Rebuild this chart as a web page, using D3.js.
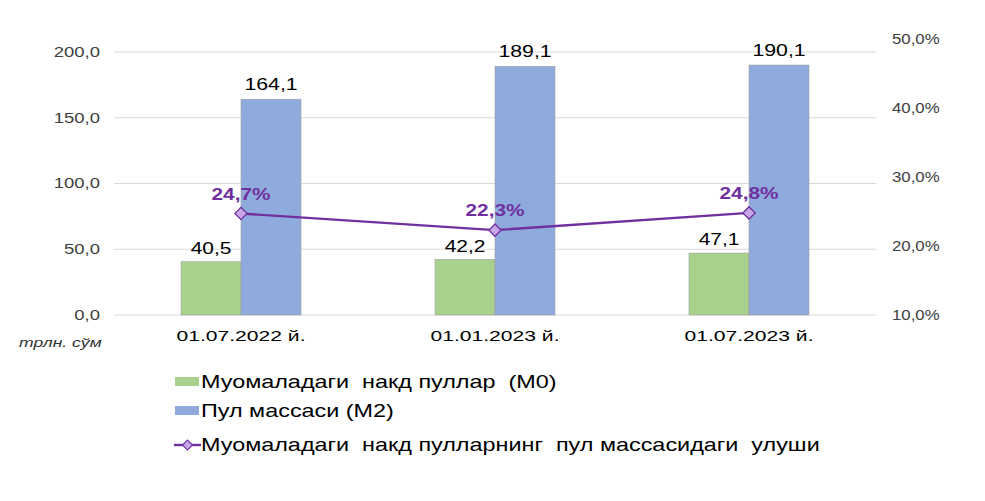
<!DOCTYPE html>
<html><head><meta charset="utf-8">
<script src="https://cdn.jsdelivr.net/npm/d3@7"></script>
<style>body{margin:0;background:#fff;} svg{display:block;font-family:"Liberation Sans",Arial,sans-serif;}</style>
</head><body>
<svg id="chart" width="985" height="501"></svg>
<script>
const categories = ["01.07.2022 й.", "01.01.2023 й.", "01.07.2023 й."];
const m0 = [40.5, 42.2, 47.1];
const m2 = [164.1, 189.1, 190.1];
const share = [24.7, 22.3, 24.8];
const leftTicks = [0, 50, 100, 150, 200];
const rightTicks = [10, 20, 30, 40, 50];
const seriesNames = ["Муомаладаги  накд пуллар  (М0)", "Пул массаси (М2)", "Муомаладаги  накд пулларнинг  пул массасидаги  улуши"];
const unitLabel = "трлн. сўм";

const svg = d3.select("#chart");
const fmt1 = v => v.toFixed(1).replace(".", ",");
const x = d3.scaleBand().domain(categories).range([114, 876]);
const y = d3.scaleLinear().domain([0, 200]).range([315, 52]);
const y2 = d3.scaleLinear().domain([10, 50]).range([315, 39]);
const barW = 60;
const FF = "Liberation Sans, Arial, sans-serif";

// gridlines
svg.append("g").selectAll("line").data(leftTicks).join("line")
  .attr("x1", 114).attr("x2", 876).attr("y1", d => y(d)).attr("y2", d => y(d))
  .attr("stroke", "#d9d9d9").attr("stroke-width", 1);

// left axis labels
const yAxis = d3.axisLeft(y).tickValues(leftTicks).tickFormat(fmt1).tickSize(0).tickPadding(0);
const gl = svg.append("g").attr("transform", "translate(100,0)").call(yAxis);
gl.select(".domain").remove();
gl.selectAll("text").attr("x", 0).attr("font-size", 14).attr("fill", "#404040").attr("font-family", FF)
  .attr("transform", "scale(1.32,1)");

// right axis labels
const y2Axis = d3.axisRight(y2).tickValues(rightTicks).tickFormat(d => fmt1(d) + "%").tickSize(0).tickPadding(0);
const gr = svg.append("g").attr("transform", "translate(892,0)").call(y2Axis);
gr.select(".domain").remove();
gr.selectAll("text").attr("x", 0).attr("font-size", 14).attr("fill", "#404040").attr("font-family", FF)
  .attr("transform", "scale(1.2,1)");

// bars
const cx = c => x(c) + x.bandwidth() / 2;
svg.append("g").selectAll("rect").data(categories).join("rect")
  .attr("x", d => cx(d) - barW).attr("width", barW)
  .attr("y", (d, i) => y(m0[i])).attr("height", (d, i) => y(0) - y(m0[i]))
  .attr("fill", "#A9D18E").attr("stroke", "#a0a0a0").attr("stroke-width", 0.6);
svg.append("g").selectAll("rect").data(categories).join("rect")
  .attr("x", d => cx(d)).attr("width", barW)
  .attr("y", (d, i) => y(m2[i])).attr("height", (d, i) => y(0) - y(m2[i]))
  .attr("fill", "#8FAADC").attr("stroke", "#a0a0a0").attr("stroke-width", 0.6);

// bar labels
svg.append("g").selectAll("text").data(categories).join("text")
  .attr("transform", (d, i) => `translate(${cx(d) - barW / 2},${y(m0[i]) - 8}) scale(1.31,1)`)
  .attr("text-anchor", "middle").attr("font-size", 16).attr("fill", "#000")
  .text((d, i) => fmt1(m0[i]));
svg.append("g").selectAll("text").data(categories).join("text")
  .attr("transform", (d, i) => `translate(${cx(d) + barW / 2},${y(m2[i]) - 9}) scale(1.33,1)`)
  .attr("text-anchor", "middle").attr("font-size", 16).attr("fill", "#000")
  .text((d, i) => fmt1(m2[i]));

// category labels
const xAxis = d3.axisBottom(x).tickSize(0).tickPadding(0);
const gx = svg.append("g").attr("transform", "translate(0,330)").call(xAxis);
gx.select(".domain").remove();
gx.selectAll("text").attr("y", 0).attr("font-size", 15.5).attr("fill", "#000").attr("font-family", FF)
  .attr("transform", "scale(1.36,1)");

// unit label
svg.append("text").attr("transform", "translate(19,347) scale(1.35,1)").attr("font-size", 13).attr("font-style", "italic")
  .attr("fill", "#333").text(unitLabel);

// line
const purple = "#7030A0";
const line = d3.line().x((d, i) => cx(categories[i])).y(d => y2(d));
svg.append("path").datum(share).attr("d", line).attr("fill", "none").attr("stroke", purple).attr("stroke-width", 2.4);
svg.append("g").selectAll("path").data(share).join("path")
  .attr("d", d3.symbol().type(d3.symbolSquare).size(75))
  .attr("transform", (d, i) => `translate(${cx(categories[i])},${y2(d)}) rotate(45)`)
  .attr("fill", "#C9A6E8").attr("stroke", purple).attr("stroke-width", 1.3);
svg.append("g").selectAll("text").data(share).join("text")
  .attr("transform", (d, i) => `translate(${cx(categories[i])},${y2(d) - 14}) scale(1.3,1)`)
  .attr("text-anchor", "middle").attr("font-size", 16).attr("font-weight", "bold").attr("fill", purple)
  .text(d => fmt1(d) + "%");

// legend
const leg = svg.append("g");
const ly = [382, 411, 445];
leg.append("rect").attr("x", 175).attr("y", ly[0] - 5).attr("width", 24).attr("height", 9).attr("fill", "#A9D18E");
leg.append("rect").attr("x", 175).attr("y", ly[1] - 5).attr("width", 24).attr("height", 9).attr("fill", "#8FAADC");
leg.append("line").attr("x1", 174).attr("x2", 201).attr("y1", ly[2]).attr("y2", ly[2]).attr("stroke", purple).attr("stroke-width", 2.4);
leg.append("path").attr("d", d3.symbol().type(d3.symbolSquare).size(50)())
  .attr("transform", `translate(187.5,${ly[2]}) rotate(45)`).attr("fill", "#C9A6E8").attr("stroke", purple).attr("stroke-width", 1.2);
leg.selectAll("text").data(seriesNames).join("text")
  .attr("transform", (d, i) => `translate(201,${ly[i]}) scale(1.3,1)`).attr("dy", "0.35em")
  .attr("font-size", 18).attr("fill", "#000").attr("xml:space", "preserve").style("white-space", "pre")
  .text(d => d);
</script>
</body></html>
